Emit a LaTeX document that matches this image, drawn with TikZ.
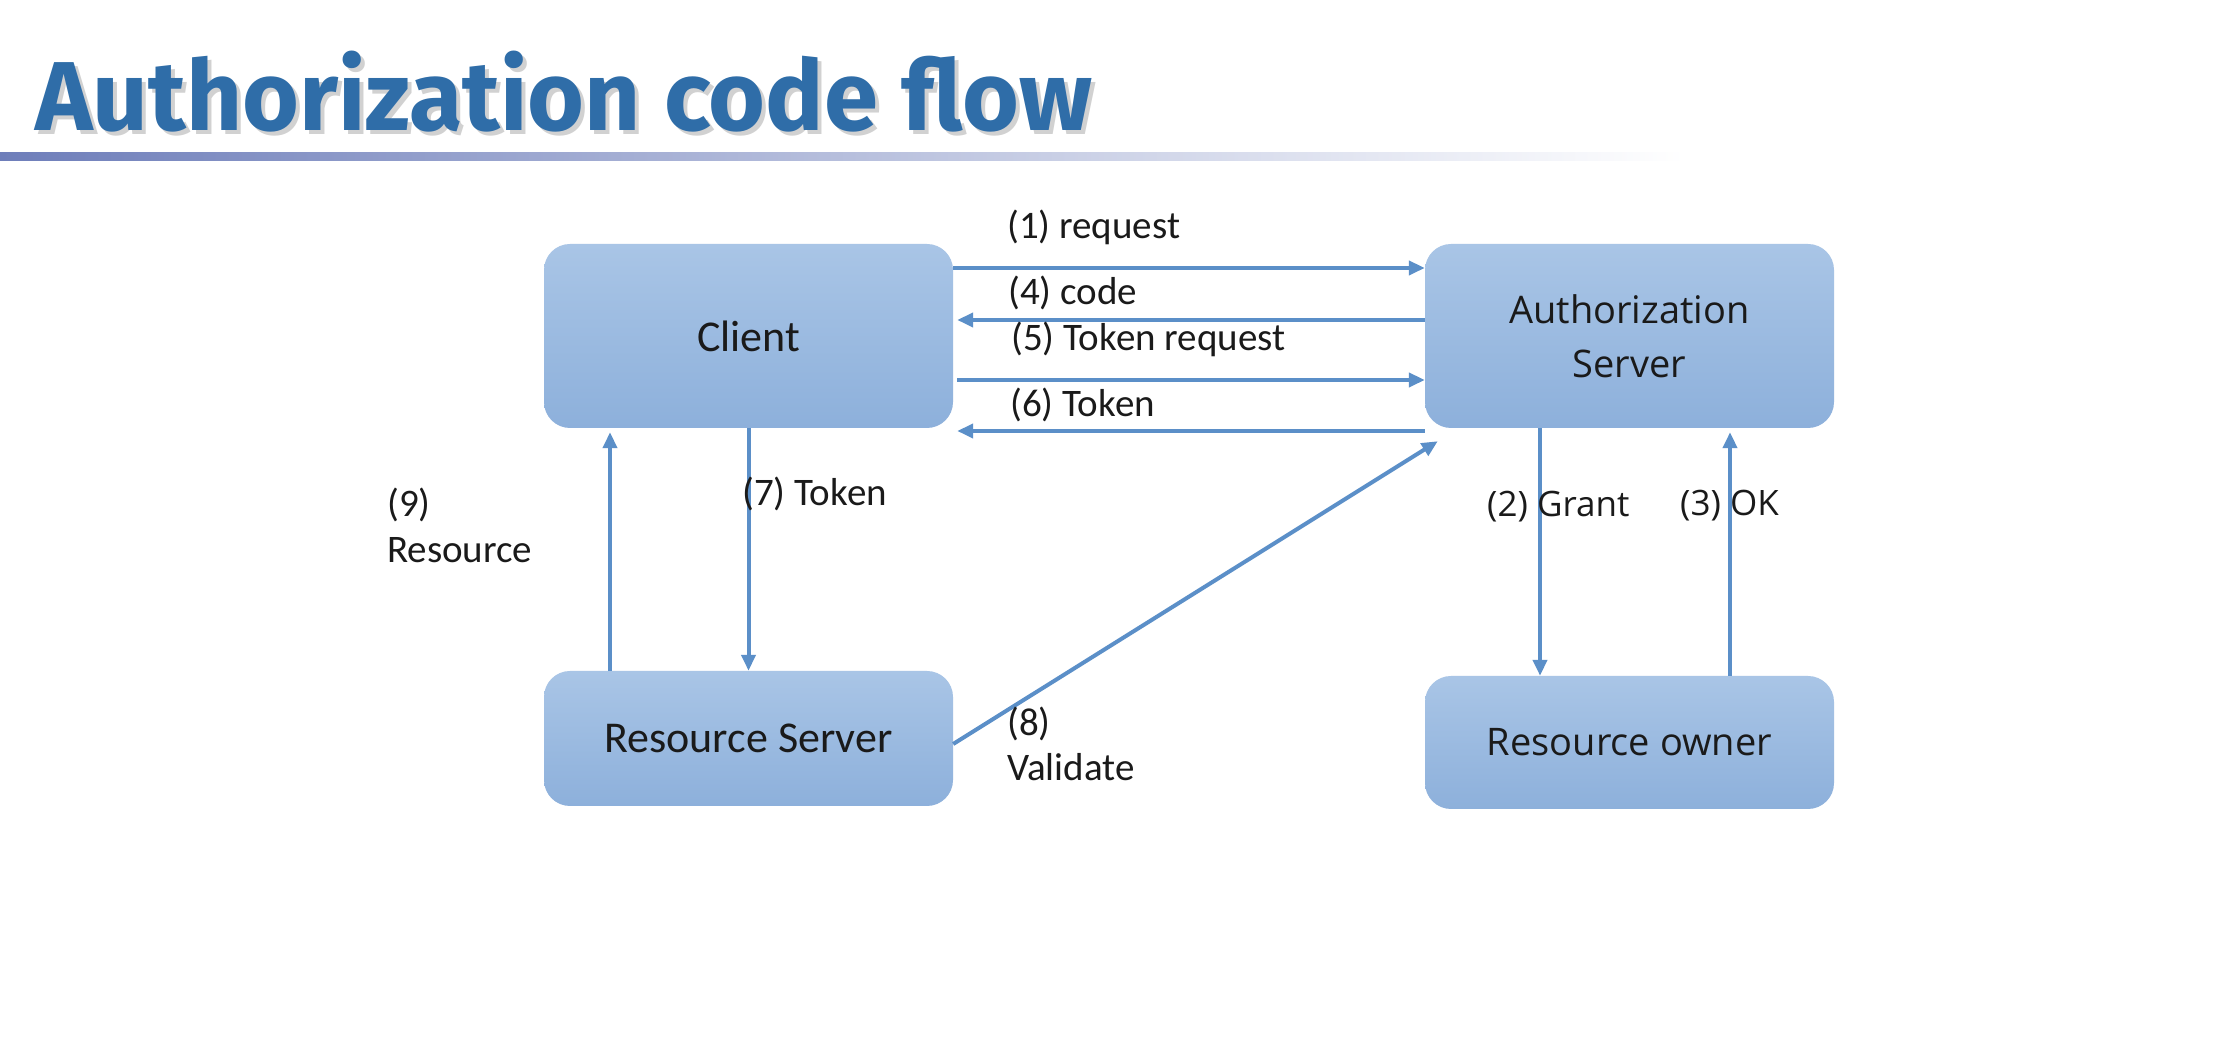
\documentclass[tikz,border=0pt]{standalone}
\usepackage{fontspec}
\setmainfont{Carlito}
\newfontfamily\segoe{Open Sans}
\newfontfamily\titlefont{Fira Sans}
\usetikzlibrary{arrows.meta,calc}
\definecolor{boxtop}{HTML}{A9C5E6}
\definecolor{boxbot}{HTML}{8DB0DB}
\definecolor{arrc}{HTML}{5B8FC8}
\definecolor{titlec}{HTML}{2F6DA8}
\definecolor{barc}{HTML}{6E7EBA}
\definecolor{txtc}{HTML}{1A1A1A}
\begin{document}
\begin{tikzpicture}[x=1pt,y=1pt,
 box/.style={rectangle, rounded corners=26pt, top color=boxtop, bottom color=boxbot, draw=none, minimum width=409pt, text=txtc, align=center, inner sep=0pt},
 arr/.style={draw=arrc, line width=4pt, -{Triangle[length=16pt,width=14pt]}},
 lab/.style={anchor=west, inner sep=0pt, text=txtc, align=left, font=\fontsize{39}{46}\selectfont},
 labr/.style={anchor=west, inner sep=0pt, text=txtc, font=\segoe\fontsize{35}{42}\selectfont},
 titlestyle/.style={anchor=base west, inner sep=0pt, xscale=0.995, font=\titlefont\bfseries\fontsize{98}{110}\selectfont},
]
\useasboundingbox (0,0) rectangle (2221,1062);
\fill[white] (0,0) rectangle (2221,1062);

% title
\node[titlestyle, text=black!40, opacity=0.45] (titleshadow) at (39,927) {Authorization code flow};
\node[titlestyle, text=titlec] (title) at (35,931) {Authorization code flow};
\shade[left color=barc, right color=white] (0,901) rectangle (1685,909);

% boxes
\node[box, minimum height=184pt, font=\fontsize{44}{53}\selectfont] (client) at (748.5,726) {Client};
\node[box, minimum height=184pt, font=\segoe\fontsize{38}{54}\selectfont] (as) at (1629.5,726) {Authorization\\Server};
\node[box, minimum height=135pt, font=\fontsize{44}{53}\selectfont] (rs) at (748.5,323.5) {Resource Server};
\node[box, minimum height=133pt, font=\segoe\fontsize{38}{54}\selectfont] (ro) at (1629.5,319.5) {Resource owner};

% horizontal arrows
\coordinate (c1) at ([yshift=68pt]client.east);
\coordinate (c4) at ([yshift=16pt,xshift=4pt]client.east);
\coordinate (c5) at ([yshift=-44pt,xshift=4pt]client.east);
\coordinate (c6) at ([yshift=-95pt,xshift=4pt]client.east);
\draw[arr] (c1) -- (c1 -| as.west);
\draw[arr] (c4 -| as.west) -- (c4);
\draw[arr] (c5) -- (c5 -| as.west);
\draw[arr] (c6 -| as.west) -- (c6);

% vertical arrows
\draw[arr] (client.south) -- (rs.north);
\draw[arr, shorten >=4pt] ([xshift=-138.5pt]rs.north) -- ([xshift=-138.5pt]client.south);
\draw[arr] ([xshift=-89.5pt]as.south) -- ([xshift=-89.5pt]ro.north);
\draw[arr, shorten >=4pt] ([xshift=100.5pt]ro.north) -- ([xshift=100.5pt]as.south);
\coordinate (v8) at ([xshift=13pt,yshift=-13pt]as.south west);
\draw[arr] ([yshift=-5.5pt]rs.east) -- (v8);

% labels
\node[lab] (l1) at (1007,835) {(1) request};
\node[lab] (l4) at (1008,769) {(4) code};
\node[lab] (l5) at (1011,723) {(5) Token request};
\node[lab] (l6) at (1010,657) {(6) Token};
\node[lab] (l7) at (742,568) {(7) Token};
\node[lab] (l9) at (387,537) {(9)\\Resource};
\node[lab, font=\fontsize{39}{45}\selectfont] (l8) at (1007,318.5) {(8)\\Validate};
\node[labr] (l2) at (1487,555) {(2) Grant};
\node[labr] (l3) at (1680,556) {(3) OK};
\end{tikzpicture}
\end{document}
